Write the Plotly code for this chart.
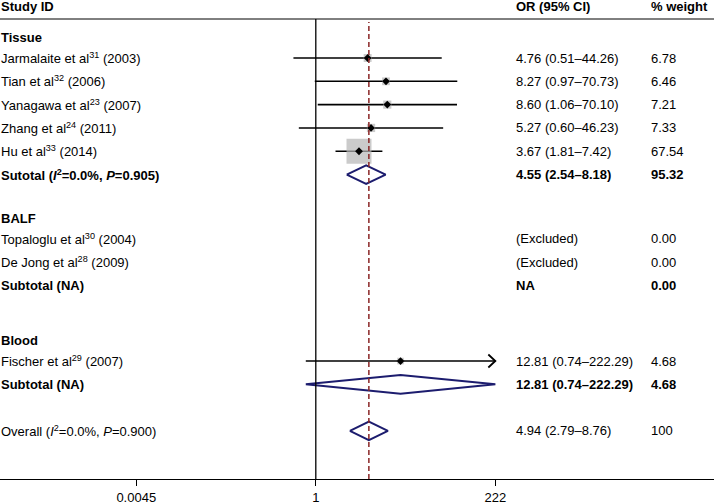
import plotly.graph_objects as go
import numpy as np

# ---------------- data ----------------
heading_labels = ["Tissue", "BALF", "Blood"]
heading_rows = [1, 9, 14]

study_labels = [
    "Jarmalaite et al<sup>31</sup> (2003)",
    "Tian et al<sup>32</sup> (2006)",
    "Yanagawa et al<sup>23</sup> (2007)",
    "Zhang et al<sup>24</sup> (2011)",
    "Hu et al<sup>33</sup> (2014)",
    "Fischer et al<sup>29</sup> (2007)",
]
study_or = [4.76, 8.27, 8.60, 5.27, 3.67, 12.81]
study_lo = [0.51, 0.97, 1.06, 0.60, 1.81, 0.74]
study_hi = [44.26, 70.73, 70.10, 46.23, 7.42, 222.29]
study_weight = [6.78, 6.46, 7.21, 7.33, 67.54, 4.68]
study_rows = [2, 3, 4, 5, 6, 15]
study_arrow = [False, False, False, False, False, True]

excluded_labels = ["Topaloglu et al<sup>30</sup> (2004)", "De Jong et al<sup>28</sup> (2009)"]
excluded_rows = [10, 11]
excluded_or_text = ["(Excluded)", "(Excluded)"]
excluded_weight_text = ["0.00", "0.00"]

pooled_labels = [
    "<b>Sutotal (<i>I</i><sup>2</sup>=0.0%, <i>P</i>=0.905)</b>",
    "<b>Subtotal (NA)</b>",
    "Overall (<i>I</i><sup>2</sup>=0.0%, <i>P</i>=0.900)",
]
pooled_or = [4.55, 12.81, 4.94]
pooled_lo = [2.54, 0.74, 2.79]
pooled_hi = [8.18, 222.29, 8.76]
pooled_weight_text = ["95.32", "4.68", "100"]
pooled_rows = [7, 16, 18]
pooled_bold = [True, True, False]

na_label = "<b>Subtotal (NA)</b>"
na_row = 12
na_or_text = "NA"
na_weight_text = "0.00"

overall_or = 4.94

tick_vals = [0.0045, 1, 222]
tick_text = ["0.0045", "1", "222"]

col_headers = ["Study ID", "OR (95% CI)", "% weight"]

# ---------------- styling ----------------
FONT = "Liberation Sans, Arial, Helvetica, sans-serif"
FS = 13
NAVY = "#1c1c6e"
GREY = "#b5b5b5"
MAROON = "#8a2626"

W, H = 714, 502
PLOT_BOTTOM = 479          # pixel of x axis
HEADER_LINE = 19           # pixel of header rule
ROW_PX = 23.31
ROW0_PX = 58 - 2 * ROW_PX  # pixel position of row 0
HEAD_SHIFT = -3            # heading text sits slightly lower
BALF_SHIFT = 5.5           # BALF block sits slightly higher in the original

def px_to_paper(py):
    return 1 - py / PLOT_BOTTOM

y_top = (0 - ROW0_PX) / ROW_PX
y_bot = (PLOT_BOTTOM - ROW0_PX) / ROW_PX

X_SCALE = 76.5             # px per decade
X_ONE = 315.8              # pixel of OR=1
x_min = -X_ONE / X_SCALE
x_max = (W - X_ONE) / X_SCALE

fig = go.Figure()

# CI lines
cx, cy = [], []
for lo, hi, r in zip(study_lo, study_hi, study_rows):
    cx += [lo, hi, None]
    cy += [r, r, None]
fig.add_trace(go.Scatter(x=cx, y=cy, mode="lines",
                         line=dict(color="black", width=1.6),
                         hoverinfo="skip", showlegend=False))

# arrows for truncated CIs
ax_, ay_ = [], []
head_dx = 10 ** (7 / X_SCALE)
head_dy = 6.5 / ROW_PX
for hi, r, a in zip(study_hi, study_rows, study_arrow):
    if a:
        ax_ += [hi / head_dx, hi, hi / head_dx, None]
        ay_ += [r - head_dy, r, r + head_dy, None]
fig.add_trace(go.Scatter(x=ax_, y=ay_, mode="lines",
                         line=dict(color="black", width=1.8),
                         hoverinfo="skip", showlegend=False))

# weight squares
max_w = max(study_weight)
sizes = [25 * np.sqrt(w / max_w) for w in study_weight]
fig.add_trace(go.Scatter(x=study_or, y=study_rows, mode="markers",
                         marker=dict(symbol="square", size=sizes, color=GREY,
                                     line=dict(width=0)),
                         hoverinfo="skip", showlegend=False))
# point estimates
fig.add_trace(go.Scatter(x=study_or, y=study_rows, mode="markers",
                         marker=dict(symbol="diamond", size=6, color="black",
                                     line=dict(width=0)),
                         hoverinfo="skip", showlegend=False))

# pooled diamonds
dh = 9.3 / ROW_PX
dx, dy = [], []
for est, lo, hi, r in zip(pooled_or, pooled_lo, pooled_hi, pooled_rows):
    dx += [lo, est, hi, est, lo, None]
    dy += [r, r - dh, r, r + dh, r, None]
fig.add_trace(go.Scatter(x=dx, y=dy, mode="lines",
                         line=dict(color=NAVY, width=2),
                         hoverinfo="skip", showlegend=False))

# reference lines
fig.add_shape(type="line", xref="x", yref="paper", x0=1, x1=1,
              y0=0, y1=px_to_paper(HEADER_LINE),
              line=dict(color="black", width=1.3))
fig.add_shape(type="line", xref="x", yref="paper", x0=overall_or, x1=overall_or,
              y0=0, y1=px_to_paper(22),
              line=dict(color=MAROON, width=1.5, dash="5px,3px"))
# header rule
fig.add_shape(type="line", xref="paper", yref="paper", x0=0, x1=1,
              y0=px_to_paper(HEADER_LINE), y1=px_to_paper(HEADER_LINE),
              line=dict(color="black", width=1))

# ---------------- text ----------------
ann = []
def txt(x, y, s, yref="y", yshift=0):
    ann.append(dict(x=x, y=y, xref="paper", yref=yref, text=s, showarrow=False,
                    xanchor="left", yanchor="middle", yshift=yshift,
                    font=dict(family=FONT, size=FS, color="black")))

X_LABEL = -1 / W
X_OR = 514 / W
X_WT = 649 / W

hy = px_to_paper(7)
txt(X_LABEL, hy, "<b>" + col_headers[0] + "</b>", yref="paper")
txt(X_OR, hy, "<b>" + col_headers[1] + "</b>", yref="paper")
txt(X_WT, hy, "<b>" + col_headers[2] + "</b>", yref="paper")

for lab, r in zip(heading_labels, heading_rows):
    shift = HEAD_SHIFT + (BALF_SHIFT if lab == "BALF" else 0)
    txt(X_LABEL, r, "<b>" + lab + "</b>", yshift=shift)

for lab, est, lo, hi, w, r in zip(study_labels, study_or, study_lo, study_hi,
                                  study_weight, study_rows):
    txt(X_LABEL, r, lab)
    txt(X_OR, r, f"{est:.2f} ({lo:.2f}\u2013{hi:.2f})")
    txt(X_WT, r, f"{w:.2f}")

for lab, o, w, r in zip(excluded_labels, excluded_or_text, excluded_weight_text, excluded_rows):
    txt(X_LABEL, r, lab, yshift=BALF_SHIFT)
    txt(X_OR, r, o, yshift=BALF_SHIFT)
    txt(X_WT, r, w, yshift=BALF_SHIFT)

txt(X_LABEL, na_row, na_label, yshift=BALF_SHIFT)
txt(X_OR, na_row, "<b>" + na_or_text + "</b>", yshift=BALF_SHIFT)
txt(X_WT, na_row, "<b>" + na_weight_text + "</b>", yshift=BALF_SHIFT)

for lab, est, lo, hi, w, r, b in zip(pooled_labels, pooled_or, pooled_lo, pooled_hi,
                                     pooled_weight_text, pooled_rows, pooled_bold):
    s_or = f"{est:.2f} ({lo:.2f}\u2013{hi:.2f})"
    if b:
        s_or = "<b>" + s_or + "</b>"
        w = "<b>" + w + "</b>"
    txt(X_LABEL, r, lab)
    txt(X_OR, r, s_or)
    txt(X_WT, r, w)

fig.update_layout(
    width=W, height=H,
    margin=dict(l=0, r=0, t=0, b=H - PLOT_BOTTOM),
    paper_bgcolor="white", plot_bgcolor="white",
    annotations=ann,
    font=dict(family=FONT, size=FS, color="black"),
    showlegend=False,
    xaxis=dict(type="log", range=[x_min, x_max], showgrid=False, zeroline=False,
               showline=True, linecolor="black", linewidth=1,
               ticks="outside", ticklen=6, tickcolor="black", tickwidth=1.3,
               tickvals=tick_vals, ticktext=tick_text,
               tickfont=dict(family=FONT, size=FS, color="black"),
               automargin=False, fixedrange=True),
    yaxis=dict(range=[y_bot, y_top], visible=False, showgrid=False,
               zeroline=False, automargin=False, fixedrange=True),
)

fig.write_html("out.html",
               config={"displayModeBar": False},
               post_script="document.body.style.margin='0';document.body.style.padding='0';document.documentElement.style.overflow='hidden';")
